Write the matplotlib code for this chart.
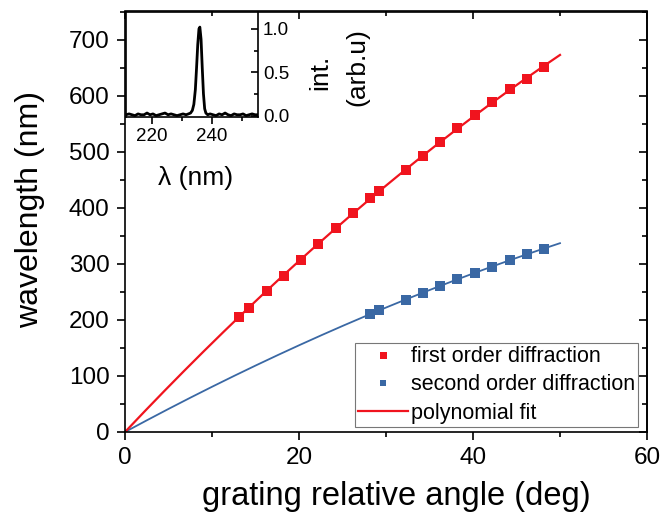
import numpy as np
import matplotlib
matplotlib.use('Agg')
import matplotlib.pyplot as plt
from matplotlib.ticker import MultipleLocator

plt.rcParams['font.family'] = ['Liberation Sans', 'DejaVu Sans']

# first order diffraction (deg, nm)
angle_1 = [13.1, 14.2, 16.3, 18.3, 20.2, 22.2, 24.25, 26.2, 28.2, 29.2,
           32.3, 34.3, 36.2, 38.2, 40.2, 42.2, 44.2, 46.2, 48.2]
wl_1 = [205, 222, 251, 279, 306, 335, 364, 390, 417, 430,
        468, 493, 518, 542, 566, 589, 611, 630, 651]

# second order diffraction
angle_2 = [28.2, 29.2, 32.3, 34.3, 36.2, 38.2, 40.2, 42.2, 44.2, 46.2, 48.2]
wl_2 = [211, 218, 236, 248, 260, 272, 283, 295, 307, 318, 327]

# inset spectrum
spec_lam = [211.5, 212.5, 213.5, 214.5, 215.5, 216.5, 217.5, 218.5, 219.5,
            220.5, 221.5, 222.5, 223.5, 224.5, 225.5, 226.5, 227.5, 228.5,
            229.5, 230.5, 231.5, 232.3, 233.0, 233.6, 234.1, 234.6, 235.0,
            235.4, 235.8, 236.1, 236.5, 236.9, 237.3, 237.7, 238.1, 238.7,
            239.5, 240.5, 241.5, 242.5, 243.5, 244.5, 245.5, 246.5, 247.5,
            248.5, 249.5, 250.5, 251.5, 252.5, 253.5, 254.5, 255.3]
spec_int = [0.01, 0.02, 0.01, 0.00, 0.02, 0.01, 0.01, 0.03, 0.01,
            0.02, 0.00, 0.01, 0.02, 0.03, 0.01, 0.02, 0.01, 0.00,
            0.01, 0.02, 0.01, 0.02, 0.03, 0.06, 0.13, 0.30, 0.55,
            0.82, 1.00, 1.02, 0.88, 0.55, 0.25, 0.08, 0.03, 0.01,
            0.02, 0.01, 0.00, 0.02, 0.01, 0.03, 0.01, 0.00, 0.02,
            0.01, 0.01, 0.02, 0.00, 0.01, 0.02, 0.01, 0.01]

red = '#f0141e'
blue = '#3a68a4'


def origin_fit(x, y, x_new):
    # polynomial fit a*x + b*x^2 forced through the origin
    x = np.asarray(x, float)
    A = np.column_stack([x, x ** 2])
    coef = np.linalg.lstsq(A, np.asarray(y, float), rcond=None)[0]
    return coef[0] * x_new + coef[1] * x_new ** 2


W, H = 661, 521
fig = plt.figure(figsize=(W / 100, H / 100), dpi=100)
ax = fig.add_axes([125 / W, 1 - 432 / H, (647 - 125) / W, (432 - 11.5) / H])

xf = np.linspace(0, 50, 200)
ax.plot(xf, origin_fit(angle_2, wl_2, xf), color=blue, lw=1.3, zorder=2)
ax.plot(xf, origin_fit(angle_1, wl_1, xf), color=red, lw=1.6, zorder=2,
        label='polynomial fit')
ax.plot(angle_1, wl_1, 's', color=red, ms=7.2, mew=0, zorder=3,
        label='first order diffraction')
ax.plot(angle_2, wl_2, 's', color=blue, ms=6.7, mew=0, zorder=3,
        label='second order diffraction')

ax.set_xlim(0, 60)
ax.set_ylim(0, 750)
ax.xaxis.set_major_locator(MultipleLocator(20))
ax.xaxis.set_minor_locator(MultipleLocator(10))
ax.yaxis.set_major_locator(MultipleLocator(100))
ax.yaxis.set_minor_locator(MultipleLocator(50))
ax.set_yticks([0, 100, 200, 300, 400, 500, 600, 700])
for s in ax.spines.values():
    s.set_linewidth(1.2)
ax.tick_params(which='both', direction='out', width=1.2, labelsize=17.5,
               pad=5)
ax.tick_params(which='major', length=6)
ax.tick_params(which='minor', length=3.5)
# mirrored ticks on top and right, pointing inward
ax_top = ax.secondary_xaxis('top')
ax_top.xaxis.set_major_locator(MultipleLocator(20))
ax_top.xaxis.set_minor_locator(MultipleLocator(10))
ax_top.tick_params(which='both', direction='in', width=1.2, labeltop=False)
ax_top.tick_params(which='major', length=6)
ax_top.tick_params(which='minor', length=3.5)
ax_right = ax.secondary_yaxis('right')
ax_right.yaxis.set_major_locator(MultipleLocator(100))
ax_right.yaxis.set_minor_locator(MultipleLocator(50))
ax_right.tick_params(which='both', direction='in', width=1.2, labelright=False)
ax_right.tick_params(which='major', length=6)
ax_right.tick_params(which='minor', length=3.5)
for sec in (ax_top, ax_right):
    for s in sec.spines.values():
        s.set_linewidth(1.2)

fig.text(396 / W, 1 - 497 / H, 'grating relative angle (deg)', fontsize=23.5,
         ha='center', va='center')
fig.text(30 / W, 1 - 210 / H, 'wavelength (nm)', fontsize=23, rotation=90,
         ha='center', va='center')

handles, labels = ax.get_legend_handles_labels()
order = [1, 2, 0]
leg = ax.legend([handles[i] for i in order], [labels[i] for i in order],
                loc='lower right', bbox_to_anchor=(0.983, 0.012),
                borderaxespad=0, fontsize=15.5, frameon=True, fancybox=False,
                edgecolor='#777777', framealpha=1, borderpad=0.15,
                labelspacing=0.34, handlelength=2.3, handletextpad=0.15,
                markerscale=0.7)
leg.get_frame().set_linewidth(0.8)

# inset spectrum
axi = fig.add_axes([126 / W, 1 - 116.5 / H, (257.5 - 126) / W,
                    (116.5 - 11.5) / H])
axi.patch.set_alpha(0)
axi.plot(spec_lam, spec_int, color='black', lw=2)
axi.set_xlim(211.5, 255.3)
axi.set_ylim(-0.01, 1.2)
axi.xaxis.set_minor_locator(MultipleLocator(10))
axi.set_xticks([220, 240])
axi.yaxis.set_major_locator(MultipleLocator(0.5))
axi.yaxis.set_minor_locator(MultipleLocator(0.25))
axi.yaxis.tick_right()
axi.yaxis.set_major_formatter(plt.FormatStrFormatter('%.1f'))
axi.spines['top'].set_visible(False)
for s in axi.spines.values():
    s.set_linewidth(1.2)
axi.tick_params(axis='x', which='both', direction='out', width=1.2,
                labelsize=13.5, pad=3)
axi.tick_params(axis='y', which='both', direction='in', width=1.2,
                labelsize=13.5, pad=4)
axi.tick_params(which='major', length=5)
axi.tick_params(which='minor', length=3)

fig.text(196 / W, 1 - 178 / H, 'λ (nm)', fontsize=19, ha='center',
         va='center')
fig.text(320 / W, 1 - 72 / H, 'int.', fontsize=19, rotation=90,
         ha='center', va='center')
fig.text(357.5 / W, 1 - 67.5 / H, '(arb.u)', fontsize=19, rotation=90,
         ha='center', va='center')

fig.savefig('out.png', dpi=100)
